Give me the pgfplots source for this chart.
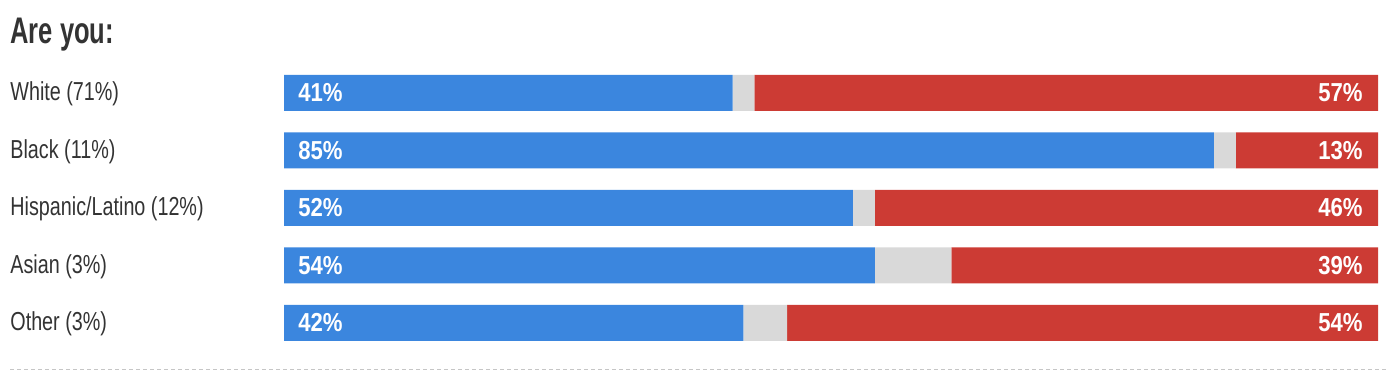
\documentclass[border=0pt]{standalone}
\usepackage{pgfplots}
\pgfplotsset{compat=1.18}
\usepackage{pgfplotstable}
\usepackage{fontspec}
\setmainfont{Liberation Sans}
\newfontfamily\condfont[FakeStretch=0.76]{Liberation Sans}
\newfontfamily\titlefont[FakeStretch=0.69]{Liberation Sans}
\newfontfamily\numfont[FakeStretch=0.85]{Liberation Sans}
\definecolor{dblue}{HTML}{3B86DE}
\definecolor{rred}{HTML}{CC3B34}
\definecolor{ggray}{HTML}{D9D9D9}
\definecolor{txt}{HTML}{333333}

\pgfplotstableread{
row dem other rep
4 41 2 57
3 85 2 13
2 52 2 46
1 54 7 39
0 42 4 54
}\data

\tikzset{bl/.style={anchor=west, inner sep=0pt, text=white, xshift=7pt, font=\numfont\bfseries\fontsize{13}{15}\selectfont},
         rl/.style={anchor=east, inner sep=0pt, text=white, xshift=-7.5pt, font=\numfont\bfseries\fontsize{13}{15}\selectfont}}

\begin{document}
\begin{tikzpicture}
\useasboundingbox (0,0) rectangle (699pt,189pt);
\node[anchor=base west, inner sep=0, text=txt, font=\titlefont\bfseries\fontsize{18.5}{22}\selectfont] at (5pt,167pt) {Are you:};
\draw[gray!45, dash pattern=on 2pt off 1.5pt, line width=0.5pt] (5pt,4pt) -- (694pt,4pt);
\begin{axis}[at={(142pt,13.125pt)}, anchor=south west, scale only axis,
  width=547pt, height=143.75pt,
  xbar stacked, bar width=18pt, xmin=0, xmax=100, ymin=-0.5, ymax=4.5,
  axis line style={draw=none}, xtick=\empty, ytick={0,...,4},
  yticklabels={Other (3\%),Asian (3\%),Hispanic/Latino (12\%),Black (11\%),White (71\%)},
  major tick length=0pt,
  yticklabel style={anchor=west, xshift=-137pt, yshift=-0.6pt, inner sep=0pt, text=txt, font=\condfont\fontsize{13}{15}\selectfont},
  clip=false]
\addplot[fill=dblue, draw=none] table[x=dem,y=row]{\data};
\addplot[fill=ggray, draw=none] table[x=other,y=row]{\data};
\addplot[fill=rred, draw=none] table[x=rep,y=row]{\data};
\coordinate (L4) at (axis cs:0,4);
\coordinate (L3) at (axis cs:0,3);
\coordinate (L2) at (axis cs:0,2);
\coordinate (L1) at (axis cs:0,1);
\coordinate (L0) at (axis cs:0,0);
\coordinate (R4) at (axis cs:100,4);
\coordinate (R3) at (axis cs:100,3);
\coordinate (R2) at (axis cs:100,2);
\coordinate (R1) at (axis cs:100,1);
\coordinate (R0) at (axis cs:100,0);
\end{axis}
\node[bl] at (L4) {41\%};
\node[bl] at (L3) {85\%};
\node[bl] at (L2) {52\%};
\node[bl] at (L1) {54\%};
\node[bl] at (L0) {42\%};
\node[rl] at (R4) {57\%};
\node[rl] at (R3) {13\%};
\node[rl] at (R2) {46\%};
\node[rl] at (R1) {39\%};
\node[rl] at (R0) {54\%};
\end{tikzpicture}
\end{document}
